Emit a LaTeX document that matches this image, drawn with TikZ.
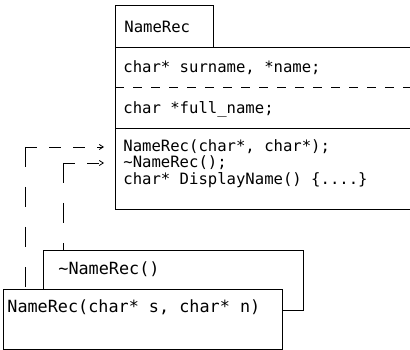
\documentclass[tikz,border=0pt]{standalone}
\usepackage{fontspec}
\setmonofont{DejaVu Sans Mono}
\usetikzlibrary{arrows.meta}
\begin{document}
\begin{tikzpicture}[x=1pt,y=-1pt,line width=0.8pt,
  txt/.style={anchor=west,inner sep=0pt,font=\ttfamily\fontsize{15.6}{17}\selectfont},
  bigtxt/.style={txt,font=\ttfamily\fontsize{16.8}{18}\selectfont},
  boxline/.style={draw=black},
  link/.style={dash pattern=on 12pt off 12pt,-{Straight Barb[length=4pt,width=5pt]}},
  vlink/.style={dash pattern=on 20pt off 20pt}]
\useasboundingbox (0,0) rectangle (410,350);
% class tab
\draw[boxline] (115,47) -- (115,5) -- (213,5) -- (213,47);
\node[txt] (tab) at (124,27) {NameRec};
% class body
\draw[boxline] (410,47) -- (115,47) -- (115,209) -- (410,209);
\draw[boxline,dash pattern=on 9pt off 9pt] (115,87) -- (410,87);
\draw[boxline] (115,128) -- (410,128);
\node[txt] (d1) at (123,68) {char* surname, *name;};
\node[txt] (d2) at (123,109) {char *full\_name;};
\node[txt] (m1) at (123,147) {NameRec(char*, char*);};
\node[txt] (m2) at (123,163) {\textasciitilde NameRec();};
\node[txt] (m3) at (123,180) {char* DisplayName() \{....\}};
% destructor box (behind)
\node[draw,fill=white,minimum width=260pt,minimum height=60pt,anchor=north west,inner sep=0pt] (dbox) at (43,250) {};
\node[bigtxt] (dtxt) at (58,269) {\textasciitilde NameRec()};
% constructor box (front)
\node[draw,fill=white,minimum width=279pt,minimum height=60pt,anchor=north west,inner sep=0pt] (cbox) at (3,289) {};
\node[bigtxt] (ctxt) at (7,307) {NameRec(char* s, char* n)};
% connectors
\coordinate (c1) at (25,147);
\coordinate (c2) at (63,163);
\draw[link] (c1) -- ([xshift=-19pt]m1.west);
\draw[link] (c2) -- ([xshift=-19pt]m2.west);
\draw[vlink] (c1) -- (c1 |- cbox.north);
\draw[vlink] (c2) -- (c2 |- dbox.north);
\end{tikzpicture}
\end{document}
